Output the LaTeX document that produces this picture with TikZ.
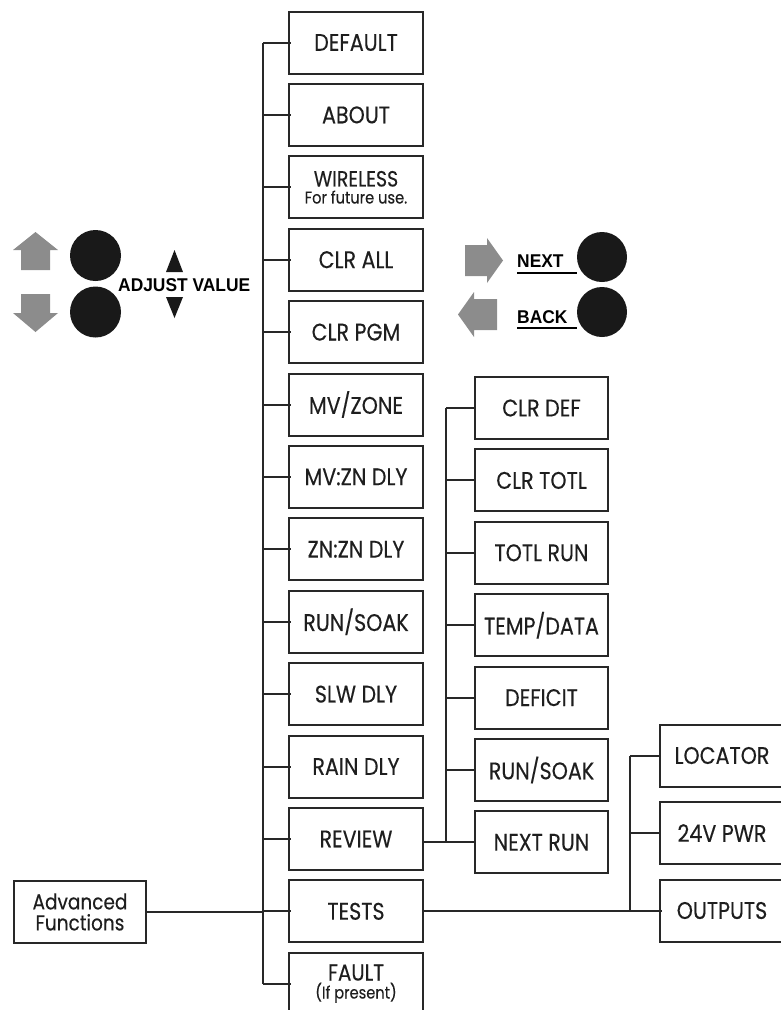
\documentclass[tikz,border=0pt]{standalone}
\usepackage{fontspec}
\setmainfont[FakeStretch=0.86, FakeBold=0.3]{Poppins}
\newfontfamily\keyfont[FakeStretch=0.94]{Liberation Sans}
\usetikzlibrary{positioning}
\definecolor{keygray}{RGB}{140,140,140}
\definecolor{linegray}{RGB}{40,40,40}
\definecolor{textgray}{RGB}{30,30,30}
\tikzstyle{line} = [line width=2pt, draw=linegray]
\tikzstyle{menubox} = [rectangle, minimum width=134pt, minimum height=62pt, text centered, draw=linegray, line width=2pt, inner sep=0pt, text=textgray, font=\fontsize{24}{22}\selectfont]
\tikzstyle{subbox} = [menubox, minimum width=133pt]
\tikzstyle{testbox} = [menubox, minimum width=124pt]
\tikzstyle{knob} = [circle, fill=black!90, minimum size=51pt, inner sep=0pt]
\tikzstyle{keyarrow} = [fill=keygray]
\tikzstyle{keylabel} = [inner sep=0pt, anchor=west, font=\keyfont\bfseries\fontsize{18.5}{18}\selectfont]

\begin{document}
\begin{tikzpicture}[x=1pt, y=-1pt, node distance=8.4pt]
        \useasboundingbox (0,0) rectangle (781,1010);

        \node (default) [menubox] at (356,42.5) {DEFAULT};
        \node (about) [menubox, below=of default] {ABOUT};
        \node (wireless) [menubox, below=of about, align=center, font=\fontsize{22}{17}\selectfont] {WIRELESS\\\fontsize{17}{17}\selectfont For future use.};
        \node (clrall) [menubox, below=of wireless] {CLR ALL};
        \node (clrpgm) [menubox, below=of clrall] {CLR PGM};
        \node (mvzone) [menubox, below=of clrpgm] {MV/ZONE};
        \node (mvzndly) [menubox, below=of mvzone] {MV:ZN DLY};
        \node (znzndly) [menubox, below=of mvzndly] {ZN:ZN DLY};
        \node (runsoak) [menubox, below=of znzndly] {RUN/SOAK};
        \node (slwdly) [menubox, below=of runsoak] {SLW DLY};
        \node (raindly) [menubox, below=of slwdly] {RAIN DLY};
        \node (review) [menubox, below=of raindly] {REVIEW};
        \node (tests) [menubox, below=of review] {TESTS};
        \node (fault) [menubox, below=of tests, align=center, font=\fontsize{23}{18}\selectfont] {FAULT\\\fontsize{17}{18}\selectfont (If present)};

        \node (clrdef) [subbox] at (541.5,408) {CLR DEF};
        \node (clrtotl) [subbox, below=of clrdef] {CLR TOTL};
        \node (totlrun) [subbox, below=of clrtotl] {TOTL RUN};
        \node (tempdata) [subbox, below=of totlrun] {TEMP/DATA};
        \node (deficit) [subbox, below=of tempdata] {DEFICIT};
        \node (revsoak) [subbox, below=of deficit] {RUN/SOAK};
        \node (nextrun) [subbox, below=of revsoak] {NEXT RUN};

        \node (locator) [testbox] at (722,755.5) {LOCATOR};
        \node (pwr) [testbox, below=13.5pt of locator] {24V PWR};
        \node (outputs) [testbox, below=13.5pt of pwr] {OUTPUTS};

        \node (adv) [menubox, minimum width=132pt, align=center, font=\fontsize{21.5}{21}\selectfont] at (80,912) {Advanced\\Functions};

        \coordinate (trunk) at (263,0);
        \coordinate (subtrunk) at (446,0);
        \coordinate (testtrunk) at (630,0);

        \draw [line] (trunk |- default) -- (trunk |- fault);
        \draw [line] (trunk |- default) -- ([xshift=3pt]default.west);
        \draw [line] (trunk |- about) -- ([xshift=3pt]about.west);
        \draw [line] (trunk |- wireless) -- ([xshift=3pt]wireless.west);
        \draw [line] (trunk |- clrall) -- ([xshift=3pt]clrall.west);
        \draw [line] (trunk |- clrpgm) -- ([xshift=3pt]clrpgm.west);
        \draw [line] (trunk |- mvzone) -- ([xshift=3pt]mvzone.west);
        \draw [line] (trunk |- mvzndly) -- ([xshift=3pt]mvzndly.west);
        \draw [line] (trunk |- znzndly) -- ([xshift=3pt]znzndly.west);
        \draw [line] (trunk |- runsoak) -- ([xshift=3pt]runsoak.west);
        \draw [line] (trunk |- slwdly) -- ([xshift=3pt]slwdly.west);
        \draw [line] (trunk |- raindly) -- ([xshift=3pt]raindly.west);
        \draw [line] (trunk |- review) -- ([xshift=3pt]review.west);
        \draw [line] (trunk |- tests) -- ([xshift=3pt]tests.west);
        \draw [line] (trunk |- fault) -- ([xshift=3pt]fault.west);
        \draw [line] (adv) -- (trunk |- adv);

        \draw [line] (subtrunk |- clrdef) -- (subtrunk |- nextrun);
        \draw [line] (subtrunk |- clrdef) -- (clrdef);
        \draw [line] (subtrunk |- clrtotl) -- (clrtotl);
        \draw [line] (subtrunk |- totlrun) -- (totlrun);
        \draw [line] (subtrunk |- tempdata) -- (tempdata);
        \draw [line] (subtrunk |- deficit) -- (deficit);
        \draw [line] (subtrunk |- revsoak) -- (revsoak);
        \draw [line] ([xshift=-2pt]review.east |- nextrun) -- (nextrun);

        \draw [line] (testtrunk |- locator) -- (testtrunk |- outputs);
        \draw [line] (testtrunk |- locator) -- (locator);
        \draw [line] (testtrunk |- pwr) -- (pwr);
        \draw [line] (tests.east |- outputs) -- ([xshift=3pt]outputs.west);

        \node (upknob) [knob] at (95.5,255.5) {};
        \node (downknob) [knob] at (95.5,312) {};
        \node (nextknob) [knob, minimum size=50pt] at (602,257) {};
        \node (backknob) [knob, minimum size=50pt] at (602,312) {};

        \fill [keyarrow] (35.5,232) -- (58,250) -- (50,250) -- (50,270) -- (21,270) -- (21,250) -- (13,250) -- cycle;
        \fill [keyarrow] (35.5,332) -- (58,313) -- (50,313) -- (50,294) -- (21,294) -- (21,313) -- (13,313) -- cycle;
        \fill [keyarrow] (503,260.5) -- (487,238) -- (487,245) -- (465,245) -- (465,276) -- (487,276) -- (487,283) -- cycle;
        \fill [keyarrow] (458,314.5) -- (474,292) -- (474,299) -- (497,299) -- (497,330) -- (474,330) -- (474,337) -- cycle;

        \fill [black!90] (174.5,250) -- (183,272) -- (166,272) -- cycle;
        \fill [black!90] (174.5,318) -- (183,297) -- (166,297) -- cycle;

        \node (adjust) [keylabel] at (118,285) {ADJUST VALUE};
        \node (next) [keylabel] at (517,261) {NEXT};
        \node (back) [keylabel] at (517,317) {BACK};
        \draw [line width=2pt] (517,273) -- (577,273);
        \draw [line width=2pt] (517,328) -- (577,328);
    \end{tikzpicture}
\end{document}
